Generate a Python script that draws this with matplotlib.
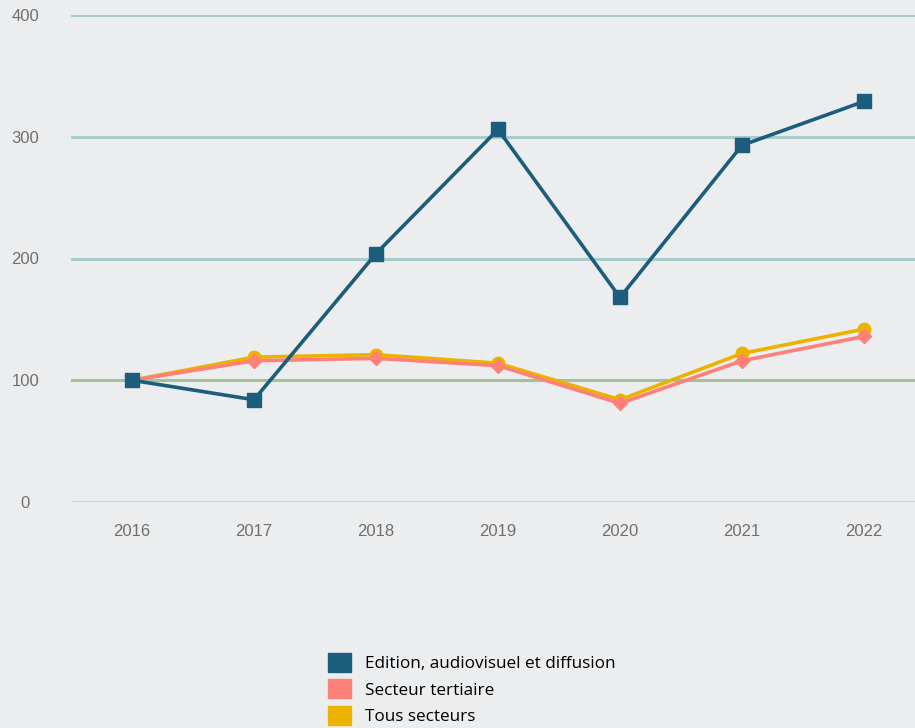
import matplotlib.pyplot as plt
from matplotlib.patches import Patch

years = ['2016', '2017', '2018', '2019', '2020', '2021', '2022']
edition = [100, 84, 204, 306, 168, 293, 329]
tertiaire = [100, 116, 118, 112, 81, 116, 136]
tous = [100, 119, 121, 114, 84, 122, 142]

y_ticks = [0, 100, 200, 300, 400]
grid_colors = ['#c4d6e8', '#a6c196', '#a8cbcb', '#a8cbcb', '#a8cbcb']

c_edit = '#1d5d7c'
c_tert = '#ff7f79'
c_tous = '#ebb300'
bg = '#ecedef'

plt.rcParams['font.family'] = ['Liberation Sans', 'DejaVu Sans']

fig = plt.figure(figsize=(9.15, 7.28), dpi=100, facecolor=bg)
ax = fig.add_axes([71 / 915, 226 / 728, 844 / 915, 487 / 728], facecolor=bg)

x = list(range(len(years)))

for v, c in zip(y_ticks, grid_colors):
    ax.axhline(v, color=c, lw=2.2, zorder=1)

ax.plot(x, tous, color=c_tous, lw=2.6, marker='o', ms=9, zorder=3, clip_on=False)
ax.plot(x, tertiaire, color=c_tert, lw=2.6, marker='D', ms=7, zorder=4, clip_on=False)
ax.plot(x, edition, color=c_edit, lw=2.6, marker='s', ms=10, zorder=5, clip_on=False)

ax.set_xlim(-0.5, -0.5 + 844 / 122)
ax.set_ylim(0, 400)
ax.set_xticks(x)
ax.set_xticklabels(years)
ax.set_yticks(y_ticks)
ax.set_yticklabels([str(v) for v in y_ticks])
for s in ax.spines.values():
    s.set_visible(False)
ax.tick_params(length=0, labelcolor='#6f6f6f', labelsize=12)
ax.tick_params(axis='x', pad=16)
ax.tick_params(axis='y', pad=33)
for lab in ax.get_yticklabels():
    lab.set_horizontalalignment('center')

handles = [Patch(color=c_edit), Patch(color=c_tert), Patch(color=c_tous)]
labels = ['Edition, audiovisuel et diffusion', 'Secteur tertiaire', 'Tous secteurs']
fig.legend(handles, labels, loc='upper left', bbox_to_anchor=(328 / 915, 1 - 653 / 728),
           frameon=False, prop={'family': 'Open Sans', 'size': 12.3},
           handlelength=1.33, handleheight=1.33, handletextpad=0.85,
           labelspacing=0.42, borderpad=0, borderaxespad=0)

fig.savefig('out.png', dpi=100, facecolor=bg)
